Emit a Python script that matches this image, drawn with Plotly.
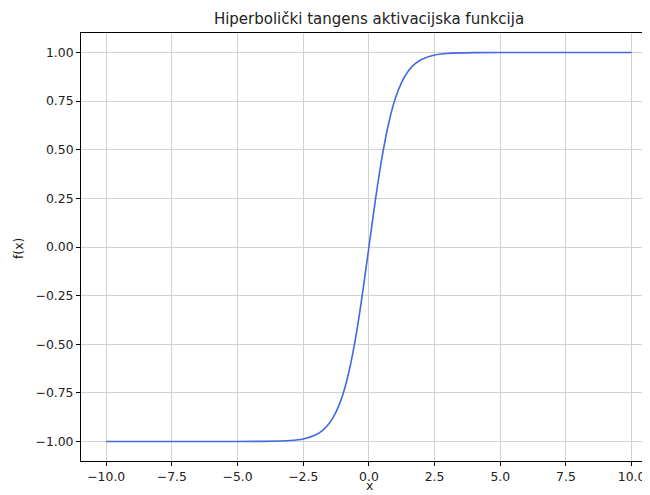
import plotly.graph_objects as go

# Values
x_vals = [-10.0, -6.0, -4.0, -3.0, -2.5, -2.0, -1.75, -1.5, -1.25, -1.0, -0.75, -0.5, -0.25,
          0.0, 0.25, 0.5, 0.75, 1.0, 1.25, 1.5, 1.75, 2.0, 2.5, 3.0, 4.0, 6.0, 10.0]
y_vals = [-1.0, -1.0, -0.999, -0.995, -0.987, -0.964, -0.941, -0.905, -0.848, -0.762, -0.635, -0.462, -0.245,
          0.0, 0.245, 0.462, 0.635, 0.762, 0.848, 0.905, 0.941, 0.964, 0.987, 0.995, 0.999, 1.0, 1.0]

x_ticks = [-10.0, -7.5, -5.0, -2.5, 0.0, 2.5, 5.0, 7.5, 10.0]
x_tick_labels = ["\u221210.0", "\u22127.5", "\u22125.0", "\u22122.5", "0.0", "2.5", "5.0", "7.5", "10.0"]
y_ticks = [-1.0, -0.75, -0.5, -0.25, 0.0, 0.25, 0.5, 0.75, 1.0]
y_tick_labels = ["\u22121.00", "\u22120.75", "\u22120.50", "\u22120.25", "0.00", "0.25", "0.50", "0.75", "1.00"]

title_text = "Hiperbolički tangens aktivacijska funkcija"
x_label = "x"
y_label = "f(x)"

# The page body has an 8px default margin; the figure is sized to fill the window from there.
W, H = 642, 487
ML, MR, MT, MB = 73, 0, 25, 34
PW, PH = W - ML - MR, H - MT - MB

fig = go.Figure()
fig.add_trace(go.Scatter(
    x=x_vals, y=y_vals, mode="lines",
    line=dict(color="#4169E1", width=1.6, shape="spline", smoothing=0.6),
    showlegend=False, hoverinfo="skip",
))

font_family = "DejaVu Sans"
txt = "#222222"
fig.update_layout(
    width=W, height=H,
    margin=dict(l=ML, r=MR, t=MT, b=MB, autoexpand=False),
    paper_bgcolor="white", plot_bgcolor="white",
    font=dict(family=font_family, color=txt, size=12),
    title=dict(text=title_text, x=(369 - 8) / W, xanchor="center", y=1 - (19 - 8) / H, yanchor="middle",
               automargin=False,
               font=dict(size=15, family=font_family, color=txt)),
    xaxis=dict(
        range=[-10.96, 10.7], tickmode="array", tickvals=x_ticks, ticktext=x_tick_labels,
        automargin=False,
        showgrid=True, gridcolor="#d2d2d2", gridwidth=1, zeroline=False,
        showline=True, linecolor="black", linewidth=1, mirror=True,
        ticks="outside", ticklen=4, tickcolor="black", tickwidth=1,
        tickfont=dict(size=12.4, family=font_family, color=txt),
    ),
    yaxis=dict(
        range=[-1.1, 1.1], tickmode="array", tickvals=y_ticks, ticktext=y_tick_labels,
        automargin=False,
        showgrid=True, gridcolor="#d2d2d2", gridwidth=1, zeroline=False,
        showline=True, linecolor="black", linewidth=1, mirror=False,
        ticks="outside", ticklen=4, tickcolor="black", tickwidth=1,
        tickfont=dict(size=12.4, family=font_family, color=txt),
    ),
    annotations=[
        dict(text=y_label, xref="paper", yref="paper",
             x=(19 - 8 - ML) / PW, y=1 - (249 - 8 - MT) / PH,
             xanchor="center", yanchor="middle", textangle=-90, showarrow=False,
             font=dict(size=12.4, family=font_family, color=txt)),
        dict(text=x_label, xref="paper", yref="paper",
             x=(369 - 8 - ML) / PW, y=1 - (495 - 8 - MT) / PH,
             xanchor="center", yanchor="bottom", showarrow=False,
             font=dict(size=12.4, family=font_family, color=txt)),
    ],
)

fig.write_html("out.html")
